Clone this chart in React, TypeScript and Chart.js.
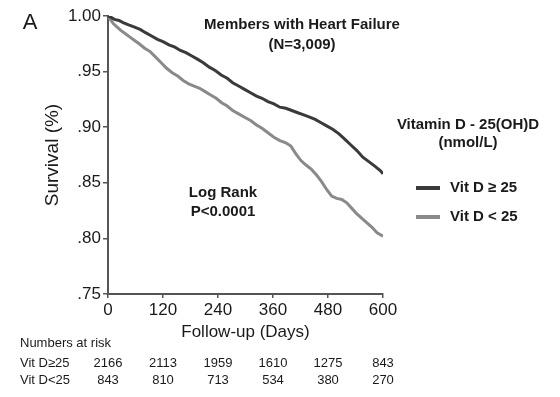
import React, { useEffect, useRef } from "react";
import { Chart, registerables } from "chart.js";

Chart.register(...registerables);

const FONT = "'Liberation Sans', Arial, Helvetica, sans-serif";

// Kaplan-Meier curves (days, survival)
const highDays = [0, 6, 14, 24, 33, 45, 58, 70, 82, 95, 108, 120, 133, 146, 158, 170, 183, 196, 208, 221, 234, 247, 260, 272, 285, 298, 311, 324, 336, 349, 362, 375, 388, 401, 414, 427, 440, 452, 465, 478, 491, 504, 517, 530, 543, 556, 569, 582, 594, 600];
const highSurv = [1.0, 0.999, 0.997, 0.996, 0.994, 0.992, 0.99, 0.988, 0.985, 0.982, 0.979, 0.977, 0.974, 0.972, 0.969, 0.967, 0.964, 0.961, 0.958, 0.954, 0.951, 0.947, 0.944, 0.94, 0.937, 0.934, 0.931, 0.928, 0.926, 0.923, 0.921, 0.918, 0.917, 0.915, 0.913, 0.911, 0.909, 0.907, 0.904, 0.901, 0.898, 0.894, 0.889, 0.884, 0.879, 0.873, 0.869, 0.865, 0.861, 0.858];

const lowDays = [0, 5, 12, 20, 28, 38, 48, 58, 68, 80, 92, 104, 116, 128, 140, 152, 164, 176, 188, 200, 212, 224, 236, 248, 260, 272, 285, 298, 311, 324, 336, 349, 362, 375, 388, 399, 410, 421, 432, 444, 455, 466, 477, 488, 499, 510, 521, 532, 543, 554, 565, 576, 587, 600];
const lowSurv = [1.0, 0.997, 0.993, 0.99, 0.987, 0.984, 0.981, 0.978, 0.975, 0.971, 0.968, 0.963, 0.958, 0.953, 0.949, 0.946, 0.942, 0.939, 0.937, 0.935, 0.932, 0.929, 0.926, 0.922, 0.919, 0.915, 0.912, 0.909, 0.906, 0.902, 0.899, 0.895, 0.891, 0.888, 0.886, 0.883, 0.876, 0.87, 0.866, 0.862, 0.857, 0.851, 0.844, 0.838, 0.836, 0.835, 0.832, 0.827, 0.822, 0.818, 0.814, 0.81, 0.805, 0.802];

const seriesLabels = ["Vit D \u2265 25", "Vit D < 25"];
const seriesColors = ["#3a3a3a", "#8a8a8a"];

// Numbers at risk table
const riskDays = [0, 120, 240, 360, 480, 600];
const riskRowLabels = ["Vit D\u226525", "Vit D<25"];
const riskHigh = [2166, 2113, 1959, 1610, 1275, 843];
const riskLow = [843, 810, 713, 534, 380, 270];

const xTicks = [0, 120, 240, 360, 480, 600];
const yTicks = [0.75, 0.8, 0.85, 0.9, 0.95, 1.0];

const annotations = {
  id: "annotations",
  afterDraw(chart: any) {
    const ctx = chart.ctx;
    const xs = chart.scales.x;
    ctx.save();
    ctx.fillStyle = "#1a1a1a";
    ctx.textBaseline = "middle";

    ctx.textAlign = "center";
    ctx.font = `22px ${FONT}`;
    ctx.fillText("A", 30, 23);

    ctx.font = `bold 15px ${FONT}`;
    ctx.fillText("Members with Heart Failure", 302, 25);
    ctx.fillText("(N=3,009)", 302, 45);

    ctx.fillText("Log Rank", 223, 193);
    ctx.fillText("P<0.0001", 223, 212);

    ctx.fillText("Vitamin D - 25(OH)D", 468, 125);
    ctx.fillText("(nmol/L)", 468, 143);

    // legend
    const legY = [188, 217];
    seriesLabels.forEach((lab, i) => {
      ctx.strokeStyle = seriesColors[i];
      ctx.lineWidth = 4;
      ctx.beginPath();
      ctx.moveTo(416, legY[i]);
      ctx.lineTo(440, legY[i]);
      ctx.stroke();
      ctx.textAlign = "left";
      ctx.fillStyle = "#1a1a1a";
      ctx.font = `bold 15px ${FONT}`;
      ctx.fillText(lab, 450, legY[i]);
    });

    // numbers at risk
    ctx.font = `13px ${FONT}`;
    ctx.textAlign = "left";
    ctx.fillText("Numbers at risk", 20, 343);
    ctx.fillText(riskRowLabels[0], 20, 363);
    ctx.fillText(riskRowLabels[1], 20, 380);
    ctx.textAlign = "center";
    riskDays.forEach((d, i) => {
      const px = xs.getPixelForValue(d);
      ctx.fillText(String(riskHigh[i]), px, 363);
      ctx.fillText(String(riskLow[i]), px, 380);
    });
    ctx.restore();
  },
};

export default function App() {
  const ref = useRef<HTMLCanvasElement | null>(null);

  useEffect(() => {
    if (!ref.current) return;
    const chart = new Chart(ref.current, {
      type: "line",
      data: {
        datasets: [
          {
            label: seriesLabels[0],
            data: highDays.map((d, i) => ({ x: d, y: highSurv[i] })),
            borderColor: seriesColors[0],
            borderWidth: 3,
            pointRadius: 0,
            tension: 0,
            fill: false,
          },
          {
            label: seriesLabels[1],
            data: lowDays.map((d, i) => ({ x: d, y: lowSurv[i] })),
            borderColor: seriesColors[1],
            borderWidth: 3,
            pointRadius: 0,
            tension: 0,
            fill: false,
          },
        ],
      },
      options: {
        animation: false,
        responsive: false,
        layout: { padding: { left: 0, right: 177, top: 16, bottom: 54 } },
        plugins: { legend: { display: false }, tooltip: { enabled: false } },
        scales: {
          x: {
            type: "linear",
            min: 0,
            max: 600,
            afterBuildTicks: (s: any) => {
              s.ticks = xTicks.map((v) => ({ value: v }));
            },
            afterFit: (s: any) => {
              s.height = 49;
            },
            ticks: {
              font: { size: 17, family: FONT },
              color: "#1a1a1a",
              padding: 2,
              maxRotation: 0,
              autoSkip: false,
            },
            grid: { drawOnChartArea: false, drawTicks: true, tickLength: 4, color: "#555", lineWidth: 1.5 },
            border: { color: "#555", width: 2 },
            title: {
              display: true,
              text: "Follow-up (Days)",
              font: { size: 17, family: FONT },
              color: "#1a1a1a",
              padding: { top: 2, bottom: 0 },
            },
          },
          y: {
            min: 0.75,
            max: 1.0,
            afterBuildTicks: (s: any) => {
              s.ticks = yTicks.map((v) => ({ value: v }));
            },
            afterFit: (s: any) => {
              s.width = 108;
            },
            ticks: {
              font: { size: 17, family: FONT },
              color: "#1a1a1a",
              padding: 2,
              autoSkip: false,
              callback: (v: any) => {
                const n = Number(v);
                if (Math.abs(n - 1) < 1e-9) return "1.00";
                return "." + Math.round(n * 100).toString().padStart(2, "0");
              },
            },
            grid: { drawOnChartArea: false, drawTicks: true, tickLength: 5, color: "#555", lineWidth: 1.5 },
            border: { color: "#555", width: 2 },
            title: {
              display: true,
              text: "Survival (%)",
              font: { size: 19, family: FONT },
              color: "#1a1a1a",
              padding: { top: 41, bottom: 0 },
            },
          },
        },
      },
      plugins: [annotations],
    });
    return () => chart.destroy();
  }, []);

  return (
    <div style={{ position: "absolute", left: 0, top: 0, width: 560, height: 397, background: "#fff" }}>
      <canvas ref={ref} width={560} height={397} style={{ display: "block" }} />
    </div>
  );
}
